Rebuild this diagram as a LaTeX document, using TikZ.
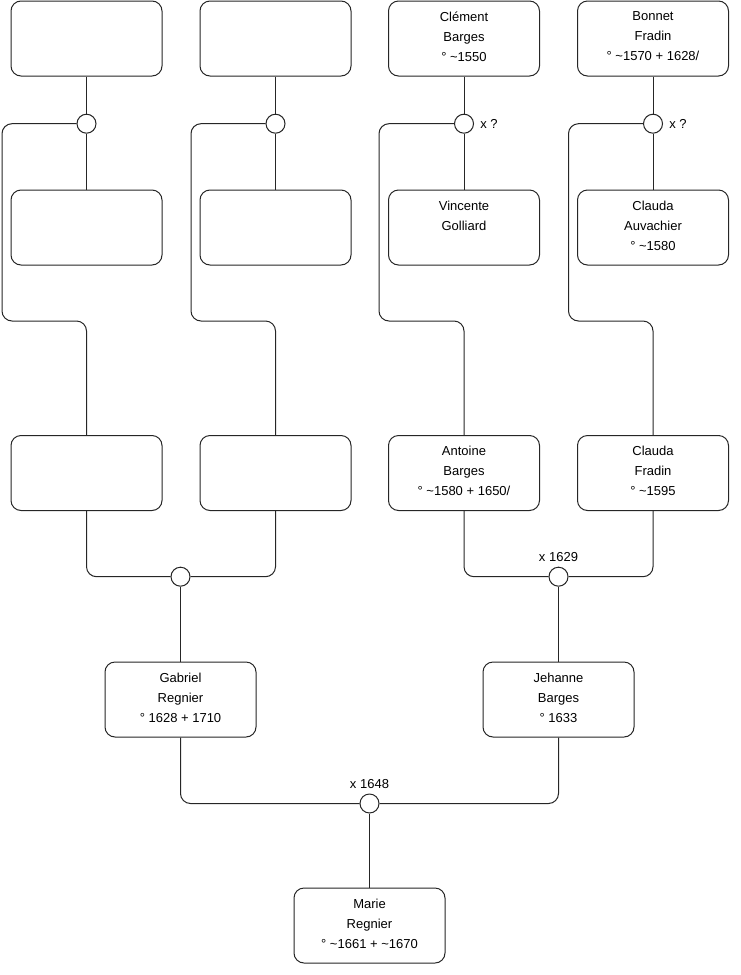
\documentclass[tikz,border=0pt]{standalone}
\usepackage{fontspec}
\setmainfont{Liberation Sans}
\begin{document}
\begin{tikzpicture}[x=0.75pt,y=-0.75pt,
  person/.style={draw=black!85, fill=white, rounded corners=7.5pt, minimum width=113.25pt, minimum height=56.25pt, align=center, font=\fontsize{9.75}{15}\selectfont, inner sep=0pt, text depth=3pt, line width=0.75pt},
  union/.style={circle, draw=black!85, fill=white, minimum size=14.25pt, inner sep=0pt, line width=0.75pt},
  link/.style={draw=black!85, line width=0.75pt, rounded corners=7.5pt},
  lab/.style={font=\fontsize{9.75}{11}\selectfont, inner sep=1pt}]
\useasboundingbox (0,0) rectangle (740,975);
% row 1
\node[person] (A1) at (86.5,38.5) {};
\node[person] (B1) at (275.5,38.5) {};
\node[person] (C1) at (464,38.5) {Clément\\Barges\\° \textasciitilde1550};
\node[person] (D1) at (653,38.5) {Bonnet\\Fradin\\° \textasciitilde1570 + 1628/};
% row 2
\node[person] (A2) at (86.5,227.5) {};
\node[person] (B2) at (275.5,227.5) {};
\node[person] (C2) at (464,227.5) {Vincente\\Golliard\\\mbox{}};
\node[person] (D2) at (653,227.5) {Clauda\\Auvachier\\° \textasciitilde1580};
% row 3
\node[person] (A3) at (86.5,473) {};
\node[person] (B3) at (275.5,473) {};
\node[person] (C3) at (464,473) {Antoine\\Barges\\° \textasciitilde1580 + 1650/};
\node[person] (D3) at (653,473) {Clauda\\Fradin\\° \textasciitilde1595};
% row 4
\node[person] (G) at (180.5,699.5) {Gabriel\\Regnier\\° 1628 + 1710};
\node[person] (J) at (558.5,699.5) {Jehanne\\Barges\\° 1633};
% row 5
\node[person] (M) at (369.5,925.5) {Marie\\Regnier\\° \textasciitilde1661 + \textasciitilde1670};
% unions
\node[union] (uA) at (86.5,123.7) {};
\node[union] (uB) at (275.5,123.7) {};
\node[union, label={[lab, label distance=3.5pt]east:x ?}] (uC) at (464,123.7) {};
\node[union, label={[lab, label distance=3.5pt]east:x ?}] (uD) at (653,123.7) {};
\node[union] (uG) at (180.5,576.7) {};
\node[union, label={[lab, label distance=2.5pt]above:x 1629}] (uJ) at (558.5,576.7) {};
\node[union, label={[lab, label distance=2.5pt]above:x 1648}] (uM) at (369.5,803.5) {};
% bends
\coordinate (lA) at (2,321);
\coordinate (lB) at (191,321);
\coordinate (lC) at (379,321);
\coordinate (lD) at (568.5,321);
% connectors top
\foreach \c in {A,B,C,D}{
  \draw[link] (\c1.south) -- (u\c.north);
  \draw[link] (u\c.south) -- (\c2.north);
  \draw[link] (u\c.west) -| (l\c) -| (\c3.north);
}
% row 3 to unions
\draw[link] (A3.south) |- (uG.west);
\draw[link] (B3.south) |- (uG.east);
\draw[link] (C3.south) |- (uJ.west);
\draw[link] (D3.south) |- (uJ.east);
\draw[link] (uG.south) -- (G.north);
\draw[link] (uJ.south) -- (J.north);
\draw[link] (G.south) |- (uM.west);
\draw[link] (J.south) |- (uM.east);
\draw[link] (uM.south) -- (M.north);
\end{tikzpicture}
\end{document}
